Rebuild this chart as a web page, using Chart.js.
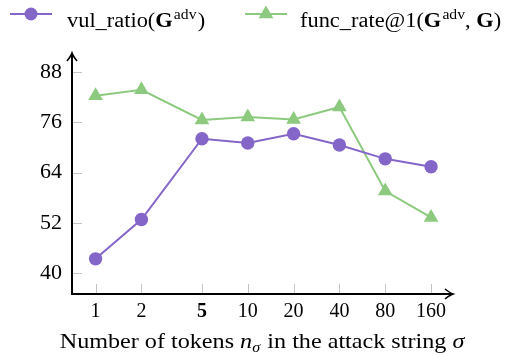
<!DOCTYPE html>
<html>
<head>
<meta charset="utf-8">
<script src="https://cdn.jsdelivr.net/npm/chart.js@4"></script>
<style>
  html, body { margin: 0; padding: 0; background: #fff; }
  #wrap { width: 512px; height: 354px; position: relative; }
</style>
</head>
<body>
<div id="wrap"><canvas id="c" width="512" height="354"></canvas></div>
<script>
// Attack string length sweep
const tokenCounts = [1, 2, 5, 10, 20, 40, 80, 160];
const vulRatio = [43.4, 52.8, 72.1, 71.1, 73.3, 70.6, 67.3, 65.4];
const funcRate = [82.4, 83.8, 76.6, 77.3, 76.7, 79.7, 59.6, 53.3];
const yTickValues = [40, 52, 64, 76, 88];

const PURPLE = '#8466c9';
const GREEN = '#8dca7f';
const SERIF = '"Liberation Serif", "Times New Roman", serif';

function drawArrowHead(ctx, x, y, dir) {
  // open chevron-style arrow tip
  ctx.save();
  ctx.translate(x, y);
  ctx.rotate(dir);
  ctx.beginPath();
  ctx.moveTo(-8, -5);
  ctx.quadraticCurveTo(-3, -1, 0, 0);
  ctx.quadraticCurveTo(-3, 1, -8, 5);
  ctx.lineWidth = 1.6;
  ctx.strokeStyle = '#000';
  ctx.stroke();
  ctx.restore();
}

function setFont(ctx, r, base) {
  const size = r.size || base;
  ctx.font = (r.italic ? 'italic ' : '') + (r.bold ? 'bold ' : '') + size + 'px ' + SERIF;
}
function runsWidth(ctx, runs, base) {
  let w = 0;
  for (const r of runs) { setFont(ctx, r, base); w += ctx.measureText(r.t).width + (r.gap || 0); }
  return w;
}
// runs of text with individual styles, drawn left to right, widened by sx
function drawRuns(ctx, x, y, runs, base, sx) {
  ctx.save();
  ctx.translate(x, y);
  ctx.scale(sx, 1);
  let cx = 0;
  for (const r of runs) {
    setFont(ctx, r, base);
    ctx.fillText(r.t, cx, r.dy || 0);
    cx += ctx.measureText(r.t).width + (r.gap || 0);
  }
  ctx.restore();
}

const decorations = {
  id: 'decorations',
  beforeDatasetsDraw(chart) {
    const { ctx, chartArea: a, scales: { x, y } } = chart;
    ctx.save();
    // inner ticks
    ctx.strokeStyle = '#c4c4c4';
    ctx.lineWidth = 1;
    for (const v of yTickValues) {
      const py = Math.round(y.getPixelForValue(v)) + 0.5;
      ctx.beginPath(); ctx.moveTo(a.left, py); ctx.lineTo(a.left + 10, py); ctx.stroke();
    }
    for (const v of tokenCounts) {
      const px = Math.round(x.getPixelForValue(v)) + 0.5;
      ctx.beginPath(); ctx.moveTo(px, a.bottom); ctx.lineTo(px, a.bottom - 10); ctx.stroke();
    }
    // axis lines with arrows
    ctx.strokeStyle = '#000';
    ctx.lineWidth = 2;
    ctx.beginPath();
    ctx.moveTo(a.left, a.top + 1);
    ctx.lineTo(a.left, a.bottom);
    ctx.lineTo(a.right - 1, a.bottom);
    ctx.stroke();
    drawArrowHead(ctx, a.left, a.top, -Math.PI / 2);
    drawArrowHead(ctx, a.right, a.bottom, 0);
    ctx.restore();
  },
  afterDraw(chart) {
    const { ctx } = chart;
    ctx.save();
    ctx.fillStyle = '#000';
    ctx.textBaseline = 'alphabetic';
    // axis title
    const title = [
      { t: 'Number of tokens ' },
      { t: 'n', italic: true },
      { t: 'σ', italic: true, size: 14, dy: 4, gap: 1 },
      { t: ' in the attack string ' },
      { t: 'σ', italic: true }
    ];
    const tSize = 21, tSx = 1.15;
    const tw = runsWidth(ctx, title, tSize) * tSx;
    drawRuns(ctx, 262 - tw / 2, 348, title, tSize, tSx);

    // legend
    const ly = 14;
    ctx.lineWidth = 2;
    ctx.strokeStyle = PURPLE;
    ctx.beginPath(); ctx.moveTo(10, ly); ctx.lineTo(52, ly); ctx.stroke();
    ctx.fillStyle = PURPLE;
    ctx.beginPath(); ctx.arc(31, ly, 6.5, 0, Math.PI * 2); ctx.fill();

    ctx.strokeStyle = GREEN;
    ctx.beginPath(); ctx.moveTo(245, ly); ctx.lineTo(287, ly); ctx.stroke();
    ctx.fillStyle = GREEN;
    const r = 8.5;
    ctx.beginPath();
    ctx.moveTo(266, ly - r);
    ctx.lineTo(266 + r * Math.sin(Math.PI * 2 / 3), ly - r * Math.cos(Math.PI * 2 / 3));
    ctx.lineTo(266 - r * Math.sin(Math.PI * 2 / 3), ly - r * Math.cos(Math.PI * 2 / 3));
    ctx.closePath(); ctx.fill();

    ctx.fillStyle = '#000';
    const baseY = 27, lSize = 20, lSx = 1.12;
    drawRuns(ctx, 67, baseY, [
      { t: 'vul_ratio(' },
      { t: 'G', bold: true, gap: 1 },
      { t: 'adv', size: 14, dy: -8, gap: 1 },
      { t: ')' }
    ], lSize, lSx);
    drawRuns(ctx, 300, baseY, [
      { t: 'func_rate@1(' },
      { t: 'G', bold: true, gap: 1 },
      { t: 'adv', size: 14, dy: -8 },
      { t: ',', gap: 5 },
      { t: 'G', bold: true },
      { t: ')' }
    ], lSize, lSx);
    ctx.restore();
  }
};

const points = (vals) => tokenCounts.map((x, i) => ({ x, y: vals[i] }));

new Chart(document.getElementById('c'), {
  type: 'line',
  data: {
    datasets: [
      {
        label: 'vul_ratio',
        data: points(vulRatio),
        borderColor: PURPLE,
        backgroundColor: PURPLE,
        borderWidth: 2,
        pointStyle: 'circle',
        pointRadius: 6.7,
        pointBorderWidth: 0,
        pointHoverRadius: 6.7
      },
      {
        label: 'func_rate@1',
        data: points(funcRate),
        borderColor: GREEN,
        backgroundColor: GREEN,
        borderWidth: 2,
        pointStyle: 'triangle',
        pointRadius: 8.5,
        pointBorderWidth: 0,
        pointHoverRadius: 8.5
      }
    ]
  },
  options: {
    responsive: false,
    animation: false,
    events: [],
    layout: { padding: { top: 53, right: 59, left: 0, bottom: 0 } },
    plugins: { legend: { display: false }, tooltip: { enabled: false } },
    scales: {
      x: {
        type: 'logarithmic',
        min: 0.712,
        max: 223,
        grid: { display: false, drawTicks: false },
        border: { display: false },
        afterBuildTicks: (s) => { s.ticks = tokenCounts.map(v => ({ value: v })); },
        afterFit: (s) => { s.height = 60; },
        ticks: {
          autoSkip: false,
          maxRotation: 0,
          padding: 6,
          color: '#000',
          callback: (v) => String(v),
          font: (c) => ({ family: SERIF, size: 20, weight: (c.tick && c.tick.value === 5) ? 'bold' : 'normal' })
        }
      },
      y: {
        type: 'linear',
        min: 35,
        max: 92.6,
        grid: { display: false, drawTicks: false },
        border: { display: false },
        afterBuildTicks: (s) => { s.ticks = yTickValues.map(v => ({ value: v })); },
        afterFit: (s) => { s.width = 72; },
        ticks: {
          padding: 10,
          color: '#000',
          font: { family: SERIF, size: 22 }
        }
      }
    }
  },
  plugins: [decorations]
});
</script>
</body>
</html>
